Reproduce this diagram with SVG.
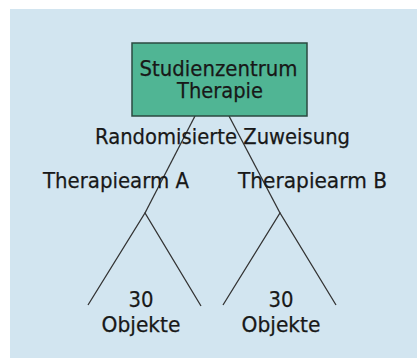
<svg xmlns="http://www.w3.org/2000/svg" width="417" height="360" viewBox="0 0 417 360">
<style>
text{font-family:"DejaVu Sans","Verdana",sans-serif;font-size:21px;fill:#181818;stroke:#181818;stroke-width:0.25;text-anchor:middle}
.ln{stroke:#333;stroke-width:1.3;fill:none}
</style>
<rect width="417" height="360" fill="#ffffff"/>
<rect x="10" y="9" width="407" height="349" fill="#d2e5f0"/>
<g id="connectors">
<polyline class="ln" points="195,116 145,213"/>
<polyline class="ln" points="88,305 145,213 201,306"/>
<polyline class="ln" points="229,116 280,213"/>
<polyline class="ln" points="223,305 280,213 336,305"/>
</g>
<g id="studienzentrum">
<rect x="132" y="43" width="175" height="73" fill="#50b594" stroke="#2b4a40" stroke-width="1.5"/>
<text x="218.5" y="75.5" textLength="158" lengthAdjust="spacingAndGlyphs">Studienzentrum</text>
<text x="220" y="98" textLength="86" lengthAdjust="spacingAndGlyphs">Therapie</text>
</g>
<g id="zuweisung">
<text x="222.5" y="144" textLength="255" lengthAdjust="spacingAndGlyphs">Randomisierte Zuweisung</text>
</g>
<g id="armA">
<text x="116" y="187.5" textLength="146" lengthAdjust="spacingAndGlyphs">Therapiearm A</text>
</g>
<g id="armB">
<text x="312.5" y="187.5" textLength="149" lengthAdjust="spacingAndGlyphs">Therapiearm B</text>
</g>
<g id="objA">
<text x="141" y="307" textLength="25" lengthAdjust="spacingAndGlyphs">30</text>
<text x="141" y="332" textLength="79" lengthAdjust="spacingAndGlyphs">Objekte</text>
</g>
<g id="objB">
<text x="281" y="307" textLength="25" lengthAdjust="spacingAndGlyphs">30</text>
<text x="281" y="332" textLength="79" lengthAdjust="spacingAndGlyphs">Objekte</text>
</g>
</svg>
